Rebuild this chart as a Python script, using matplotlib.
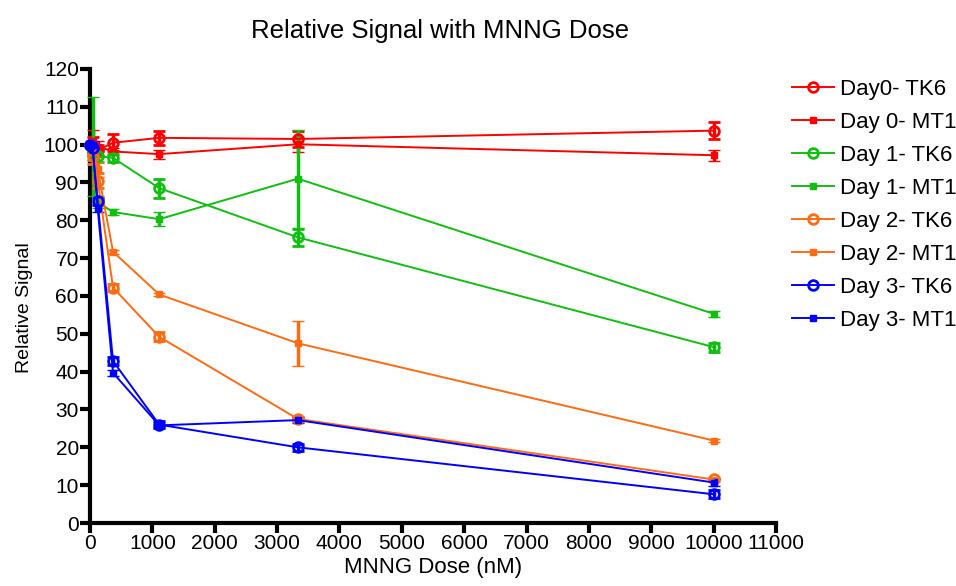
import matplotlib
matplotlib.use("Agg")
import matplotlib.pyplot as plt
from matplotlib.lines import Line2D

plt.rcParams['font.family'] = ['Liberation Sans', 'DejaVu Sans']

# MNNG doses (nM), 3-fold dilution series
dose = [0, 41, 123, 370, 1111, 3333, 10000]

# relative signal (% of untreated) and error
day0_tk6 = [100, 99.5, 98.5, 100.5, 101.8, 101.5, 103.7]
day0_tk6_err = [0, 2.5, 1.5, 2.3, 1.8, 2.0, 2.3]
day0_mt1 = [100, 101, 99.5, 98.2, 97.5, 100.1, 97.2]
day0_mt1_err = [0, 3.0, 1.5, 1.0, 1.2, 2.0, 1.5]

day1_tk6 = [100, 98, 97, 96.5, 88.5, 75.5, 46.5]
day1_tk6_err = [0, 2.0, 1.5, 1.0, 2.5, 2.3, 1.2]
day1_mt1 = [100, 99.5, 84.8, 82.2, 80.3, 91, 55.3]
day1_mt1_err = [0, 13, 1.5, 0.8, 1.8, 13, 0.8]

day2_tk6 = [100, 97, 90.5, 62.2, 49.2, 27.5, 11.5]
day2_tk6_err = [0, 2.0, 2.0, 1.0, 1.2, 0.5, 0.5]
day2_mt1 = [100, 98, 93.5, 71.7, 60.4, 47.5, 21.8]
day2_mt1_err = [0, 2.0, 2.0, 0.5, 0.5, 6.0, 0.5]

day3_tk6 = [100, 99, 85, 42.8, 26.0, 20.0, 7.6]
day3_tk6_err = [0, 1.0, 1.0, 1.0, 1.0, 1.0, 1.0]
day3_mt1 = [100, 100, 83.3, 39.7, 25.8, 27.2, 10.7]
day3_mt1_err = [0, 1.0, 1.0, 0.8, 0.8, 0.8, 0.8]

red = '#ff0000'
green = '#10bf10'
orange = '#ff6a13'
blue = '#0000ff'

series = [
    ("Day0- TK6", day0_tk6, day0_tk6_err, red, 'o'),
    ("Day 0- MT1", day0_mt1, day0_mt1_err, red, 's'),
    ("Day 1- TK6", day1_tk6, day1_tk6_err, green, 'o'),
    ("Day 1- MT1", day1_mt1, day1_mt1_err, green, 's'),
    ("Day 2- TK6", day2_tk6, day2_tk6_err, orange, 'o'),
    ("Day 2- MT1", day2_mt1, day2_mt1_err, orange, 's'),
    ("Day 3- TK6", day3_tk6, day3_tk6_err, blue, 'o'),
    ("Day 3- MT1", day3_mt1, day3_mt1_err, blue, 's'),
]

fig = plt.figure(figsize=(9.56, 5.86), dpi=100)
ax = fig.add_axes([0.0941, 0.1075, 0.7176, 0.7748])

handles = []
for label, y, err, c, m in series:
    if m == 'o':
        style = dict(marker='o', ms=7, mfc='none', mec=c, mew=2)
    else:
        style = dict(marker='s', ms=5, mfc=c, mec=c, mew=1)
    ax.errorbar(dose, y, yerr=err, color=c, lw=1.4, elinewidth=2.5,
                capsize=4, capthick=2.5, clip_on=False, zorder=3, **style)
    handles.append(Line2D([], [], color=c, lw=1.4, label=label, **style))

ax.set_xlim(0, 11000)
ax.set_ylim(0, 120)
ax.set_xticks(range(0, 11001, 1000))
ax.set_yticks(range(0, 121, 10))
for s in ['top', 'right']:
    ax.spines[s].set_visible(False)
for s in ['left', 'bottom']:
    ax.spines[s].set_linewidth(3)
    ax.spines[s].set_zorder(2)
ax.tick_params(direction='out', length=7, width=3, labelsize=15, pad=1)

ax.set_title("Relative Signal with MNNG Dose", fontsize=18.5, pad=22, x=0.51)
ax.set_xlabel("MNNG Dose (nM)", fontsize=16, labelpad=3)
ax.set_ylabel("Relative Signal", fontsize=14)
ax.yaxis.set_label_coords(-0.083, 0.475)

ax.legend(handles=handles, loc='upper left', bbox_to_anchor=(0.828, 0.866),
          bbox_transform=fig.transFigure, frameon=False, fontsize=16,
          borderpad=0, borderaxespad=0, handlelength=1.9, handletextpad=0.3,
          labelspacing=0.54)

fig.savefig("out.png", dpi=100)
